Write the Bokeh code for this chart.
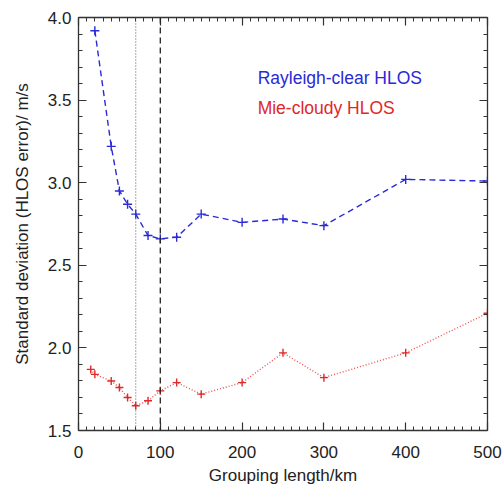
from bokeh.plotting import figure
from bokeh.models import (Range1d, LinearAxis, SingleIntervalTicker, Span, Label,
                          PrintfTickFormatter, CustomLabelingPolicy)
from bokeh.embed import file_html
from bokeh.resources import INLINE

# Data
rayleigh_km = [20, 40, 50, 60, 70, 85, 100, 120, 150, 200, 250, 300, 400, 500]
rayleigh_std = [3.92, 3.22, 2.95, 2.87, 2.81, 2.68, 2.66, 2.67, 2.81, 2.76, 2.78, 2.74, 3.02, 3.01]

mie_km = [15, 20, 40, 50, 60, 70, 85, 100, 120, 150, 200, 250, 300, 400, 500]
mie_std = [1.87, 1.84, 1.80, 1.76, 1.70, 1.65, 1.68, 1.74, 1.79, 1.72, 1.79, 1.97, 1.82, 1.97, 2.21]

vline_dotted = 70
vline_dashed = 100

x_title = "Grouping length/km"
y_title = "Standard deviation (HLOS error)/ m/s"
series_names = ["Rayleigh-clear HLOS", "Mie-cloudy HLOS"]

BLUE = "#2a2ad6"
RED = "#e02828"
FONT = "Liberation Sans"
AXC = "#333333"

NO_LABELS = CustomLabelingPolicy(code="""
try {
  const out = indices.clone();
  for (const i of Array.from(indices)) out.unset(i);
  return out;
} catch (e) {
  return indices;
}
""")

p = figure(width=502, height=490, output_backend="svg", toolbar_location=None,
           x_range=Range1d(0, 500), y_range=Range1d(1.5, 4.0),
           min_border_left=78, min_border_right=15, min_border_top=17, min_border_bottom=60,
           x_axis_location=None, y_axis_location=None)
p.grid.visible = False
p.outline_line_color = None
p.background_fill_color = "white"
p.border_fill_color = "white"

def style_axis(ax, is_x, show_labels, title=None):
    if is_x:
        ax.ticker = SingleIntervalTicker(interval=100, num_minor_ticks=10)
    else:
        ax.ticker = SingleIntervalTicker(interval=0.5, num_minor_ticks=5)
        ax.formatter = PrintfTickFormatter(format="%.1f")
    ax.axis_line_color = AXC
    ax.axis_line_width = 1.3
    ax.major_tick_in = 8
    ax.major_tick_out = 0
    ax.minor_tick_in = 4
    ax.minor_tick_out = 0
    ax.major_tick_line_color = AXC
    ax.minor_tick_line_color = AXC
    ax.major_tick_line_width = 1.2
    ax.minor_tick_line_width = 1
    if show_labels:
        ax.major_label_text_font = FONT
        ax.major_label_text_font_size = "17px"
        ax.major_label_text_color = "#222222"
        ax.axis_label = title
        ax.axis_label_text_font = FONT
        ax.axis_label_text_font_size = "17px"
        ax.axis_label_text_font_style = "normal"
        ax.axis_label_text_color = "#222222"
    else:
        ax.major_label_policy = NO_LABELS
        ax.major_label_text_font_size = "0px"
        ax.major_label_standoff = 0
        ax.axis_label = None

xb = LinearAxis()
style_axis(xb, True, True, x_title)
xb.major_label_standoff = 15
xb.axis_label_standoff = 5
p.add_layout(xb, "below")

xt = LinearAxis()
style_axis(xt, True, False)
p.add_layout(xt, "above")

yl = LinearAxis()
style_axis(yl, False, True, y_title)
yl.major_label_standoff = 7
yl.axis_label_standoff = 13
p.add_layout(yl, "left")

yr = LinearAxis()
style_axis(yr, False, False)
p.add_layout(yr, "right")

p.add_layout(Span(location=vline_dotted, dimension="height", line_color="#555555",
                  line_width=1, line_dash="1 2"))
p.add_layout(Span(location=vline_dashed, dimension="height", line_color="#222222",
                  line_width=1.3, line_dash="6 4"))

p.line(rayleigh_km, rayleigh_std, line_color=BLUE, line_width=1.4, line_dash="6 4")
p.scatter(rayleigh_km, rayleigh_std, marker="cross", size=9, line_color=BLUE, line_width=1.4)

p.line(mie_km, mie_std, line_color=RED, line_width=1.4, line_dash="1 2", line_alpha=0.8)
p.scatter(mie_km, mie_std, marker="cross", size=8, line_color=RED, line_width=1.4)

p.add_layout(Label(x=219, y=3.633, text=series_names[0], text_color=BLUE,
                   text_font=FONT, text_font_size="17.5px", text_baseline="alphabetic"))
p.add_layout(Label(x=219, y=3.452, text=series_names[1], text_color=RED,
                   text_font=FONT, text_font_size="17.5px", text_baseline="alphabetic"))

open("out.html", "w").write(file_html(p, INLINE))
